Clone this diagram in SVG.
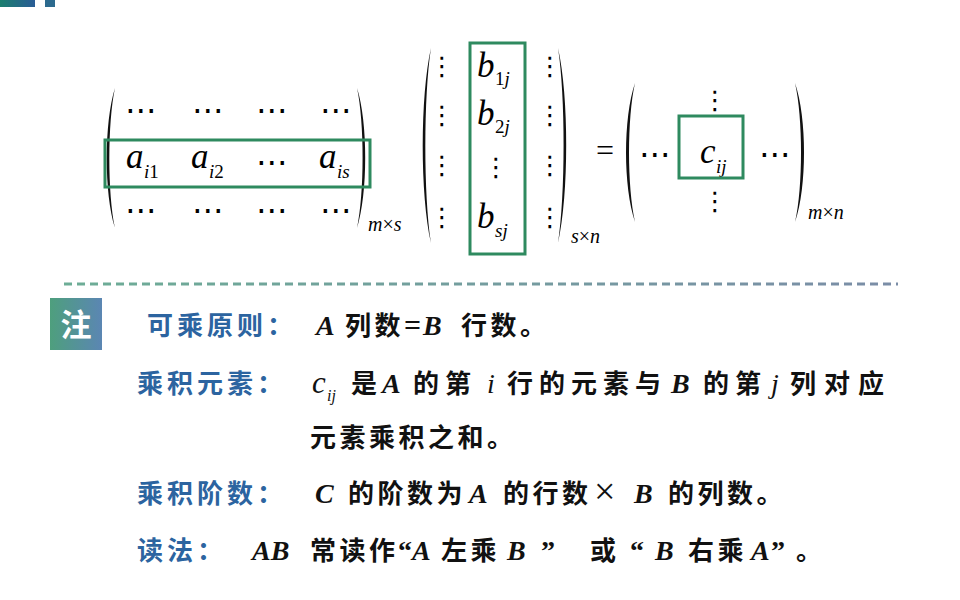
<svg xmlns="http://www.w3.org/2000/svg" width="960" height="600" viewBox="0 0 960 600">
<defs>
<linearGradient id="gTop" x1="0" y1="0" x2="1" y2="0"><stop offset="0" stop-color="#1b7e6e"/><stop offset="1" stop-color="#2a5c96"/></linearGradient>
<linearGradient id="gNote" x1="0" y1="0" x2="1" y2="0"><stop offset="0" stop-color="#4e9f7d"/><stop offset="1" stop-color="#5b86b3"/></linearGradient>
<linearGradient id="gDash" gradientUnits="userSpaceOnUse" x1="64" y1="0" x2="898" y2="0"><stop offset="0" stop-color="#6dad96"/><stop offset="1" stop-color="#7b8da7"/></linearGradient>
<style>
.mi{font-family:"Liberation Serif",serif;font-style:italic;font-size:35px;fill:#000}
.sub{font-family:"Liberation Serif",serif;font-style:italic;font-size:19px;fill:#000}
.up{font-style:normal}
.dim{font-family:"Liberation Serif",serif;font-style:italic;font-size:20px;fill:#000}
.hd{font-family:"DejaVu Sans",sans-serif;font-size:32px;fill:#000;text-anchor:middle}
.vd{font-family:"DejaVu Sans",sans-serif;font-size:26px;fill:#000;text-anchor:middle}
.box{fill:none;stroke:#2e8a5f;stroke-width:3}
.par{fill:#111}
.lab{font-family:"Noto Sans CJK SC",sans-serif;font-weight:bold;font-size:26px;fill:#2c64a0;letter-spacing:4px}
.cn{font-family:"Noto Sans CJK SC",sans-serif;font-weight:bold;font-size:26px;fill:#111;letter-spacing:3.5px}
.bi{font-family:"Liberation Serif",serif;font-style:italic;font-weight:bold;font-size:28px;fill:#111}
.it{font-family:"Liberation Serif",serif;font-style:italic;font-size:28px;fill:#111}
.sm{font-family:"Liberation Serif",serif;font-style:italic;font-size:16px;fill:#111}
.op{font-family:"Liberation Serif",serif;font-weight:bold;font-size:30px;fill:#111}
.q{font-family:"Liberation Serif",serif;font-weight:bold;font-size:28px;fill:#111}
</style>
</defs>

<g id="header-mark">
<rect x="0" y="0" width="35" height="7" fill="url(#gTop)"/>
<rect x="45" y="0" width="10" height="7" fill="#2c6a8e"/>
</g>

<g id="matrix-A">
<path class="par" d="M115,88 C104,122 104,194 115,228 C107.5,194 107.5,122 115,88Z"/>
<path class="par" d="M357,88 C368,122 368,194 357,228 C364.5,194 364.5,122 357,88Z"/>
<text class="hd" x="141" y="121">⋯</text>
<text class="hd" x="208" y="121">⋯</text>
<text class="hd" x="272" y="121">⋯</text>
<text class="hd" x="336" y="121">⋯</text>
<text class="mi" x="126" y="168">a</text><text class="sub" x="144" y="178">i<tspan class="up">1</tspan></text>
<text class="mi" x="191" y="168">a</text><text class="sub" x="209" y="178">i<tspan class="up">2</tspan></text>
<text class="hd" x="272" y="173">⋯</text>
<text class="mi" x="319" y="168">a</text><text class="sub" x="337" y="178">is</text>
<text class="hd" x="141" y="221">⋯</text>
<text class="hd" x="208" y="221">⋯</text>
<text class="hd" x="272" y="221">⋯</text>
<text class="hd" x="336" y="221">⋯</text>
<rect class="box" x="105" y="140" width="265" height="47"/>
<text class="dim" x="368" y="231">m<tspan class="up">×</tspan>s</text>
</g>

<g id="matrix-B">
<path class="par" d="M431,48 C420,96 420,195 431,243 C423.5,195 423.5,96 431,48Z"/>
<path class="par" d="M558,48 C569,96 569,195 558,243 C565.5,195 565.5,96 558,48Z"/>
<text class="vd" x="442" y="75">⋮</text>
<text class="vd" x="442" y="124">⋮</text>
<text class="vd" x="442" y="174">⋮</text>
<text class="vd" x="442" y="226">⋮</text>
<text class="vd" x="550" y="75">⋮</text>
<text class="vd" x="550" y="124">⋮</text>
<text class="vd" x="550" y="174">⋮</text>
<text class="vd" x="550" y="226">⋮</text>
<text class="mi" x="477" y="77">b</text><text class="sub" x="495" y="85"><tspan class="up">1</tspan>j</text>
<text class="mi" x="477" y="125">b</text><text class="sub" x="495" y="133"><tspan class="up">2</tspan>j</text>
<text class="vd" x="496" y="176">⋮</text>
<text class="mi" x="477" y="228">b</text><text class="sub" x="495" y="237">sj</text>
<rect class="box" x="470" y="43" width="55" height="211"/>
<text class="dim" x="571" y="243">s<tspan class="up">×</tspan>n</text>
</g>

<g id="equals">
<text x="596" y="161" font-family="Liberation Serif, serif" font-size="32" fill="#000">=</text>
</g>

<g id="matrix-C">
<path class="par" d="M635,83 C623,118 623,187 635,222 C627,187 627,118 635,83Z"/>
<path class="par" d="M795,83 C807,118 807,187 795,222 C803,187 803,118 795,83Z"/>
<text class="vd" x="715" y="109">⋮</text>
<text class="hd" x="655" y="165">⋯</text>
<text class="hd" x="775" y="165">⋯</text>
<text class="mi" x="700" y="163">c</text><text class="sub" x="716" y="173">ij</text>
<text class="vd" x="715" y="210">⋮</text>
<rect class="box" x="679" y="116" width="64" height="62"/>
<text class="dim" x="808" y="219">m<tspan class="up">×</tspan>n</text>
</g>

<g id="divider">
<line x1="64" y1="284" x2="898" y2="284" stroke="url(#gDash)" stroke-width="3" stroke-dasharray="8 5"/>
</g>

<g id="note-badge">
<rect x="50" y="298" width="52" height="52" fill="url(#gNote)"/>
<text x="76" y="336" text-anchor="middle" font-family="Noto Sans CJK SC, sans-serif" font-weight="bold" font-size="31" fill="#fff">注</text>
</g>

<g id="rule-line1">
<text class="lab" x="147" y="335">可乘原则：</text>
<text class="bi" x="316" y="335">A</text>
<text class="cn" x="345" y="335">列数</text>
<text class="op" x="404" y="335">=</text>
<text class="bi" x="423" y="335">B</text>
<text class="cn" x="461" y="335">行数。</text>
</g>

<g id="rule-line2">
<text class="lab" x="137" y="393">乘积元素：</text>
<text class="it" x="312" y="393" style="font-size:31px">c</text><text class="sm" x="327" y="401">ij</text>
<text class="cn" x="351" y="393">是</text>
<text class="bi" x="382" y="393">A</text>
<text class="cn" x="413" y="393" style="letter-spacing:6px">的第</text>
<text class="it" x="487" y="393">i</text>
<text class="cn" x="507" y="393" style="letter-spacing:6px">行的元素与</text>
<text class="bi" x="671" y="393">B</text>
<text class="cn" x="703" y="393" style="letter-spacing:6px">的第</text>
<text class="it" x="771" y="393">j</text>
<text class="cn" x="790" y="393" style="letter-spacing:8px">列对应</text>
</g>

<g id="rule-line3">
<text class="cn" x="310" y="447">元素乘积之和。</text>
</g>

<g id="rule-line4">
<text class="lab" x="137" y="503">乘积阶数：</text>
<text class="bi" x="315" y="503">C</text>
<text class="cn" x="348" y="503">的阶数为</text>
<text class="bi" x="469" y="503">A</text>
<text class="cn" x="503" y="503">的行数</text>
<text x="594" y="504" font-family="Liberation Serif, serif" font-size="38" fill="#111">×</text>
<text class="bi" x="634" y="503">B</text>
<text class="cn" x="668" y="503">的列数。</text>
</g>

<g id="rule-line5">
<text class="lab" x="137" y="560">读法：</text>
<text class="bi" x="252" y="560">AB</text>
<text class="cn" x="310" y="560">常读作</text>
<text class="q" x="398" y="560">“</text>
<text class="bi" x="412" y="560">A</text>
<text class="cn" x="441" y="560">左乘</text>
<text class="bi" x="507" y="560">B</text>
<text class="q" x="541" y="560">”</text>
<text class="cn" x="590" y="560">或</text>
<text class="q" x="630" y="560">“</text>
<text class="bi" x="655" y="560">B</text>
<text class="cn" x="688" y="560">右乘</text>
<text class="bi" x="751" y="560">A</text>
<text class="q" x="771" y="560">”</text>
<text class="cn" x="796" y="560">。</text>
</g>
</svg>
